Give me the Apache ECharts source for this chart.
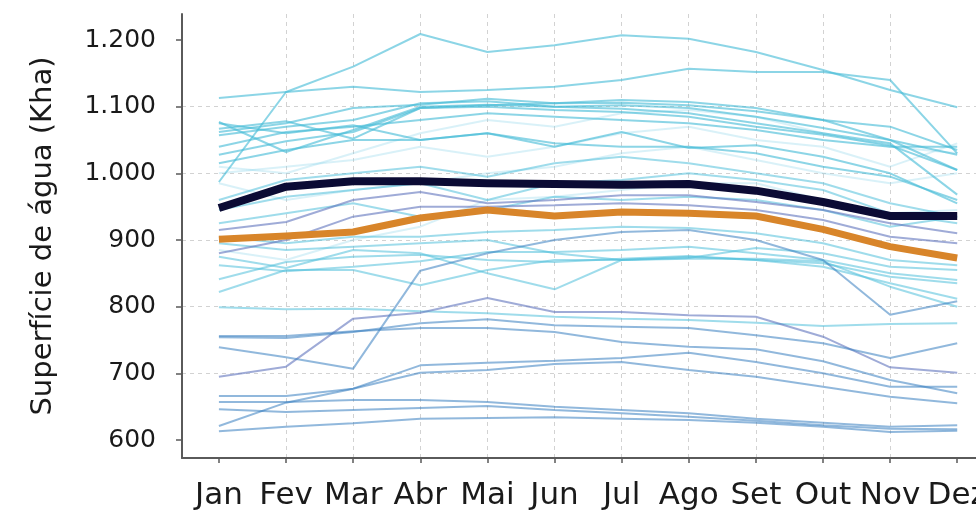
<!DOCTYPE html>
<html>
<head>
<meta charset="utf-8">
<script src="https://cdn.jsdelivr.net/npm/echarts@6/dist/echarts.min.js"></script>
<style>
  html, body { margin: 0; padding: 0; background: #fff; }
  #chart { width: 976px; height: 511px; }
</style>
</head>
<body>
<div id="chart"></div>
<script>
// meses
const months = ['Jan', 'Fev', 'Mar', 'Abr', 'Mai', 'Jun', 'Jul', 'Ago', 'Set', 'Out', 'Nov', 'Dez'];
const yTicks = [600, 700, 800, 900, 1000, 1100, 1200];

// linha escura e linha laranja
const darkLine = [948, 980, 988, 988, 985, 984, 983, 984, 974, 957, 936, 936];
const orangeLine = [901, 906, 912, 933, 945, 936, 942, 940, 936, 916, 890, 873];

// linhas finas (uma por ano)
const upperLines = [
  [1113, 1122, 1130, 1122, 1125, 1130, 1140, 1157, 1152, 1152, 1140, 1030],
  [987, 1122, 1160, 1209, 1182, 1192, 1207, 1202, 1182, 1155, 1125, 1099],
  [1077, 1032, 1065, 1100, 1103, 1100, 1102, 1098, 1085, 1068, 1050, 1028],
  [1067, 1078, 1052, 1098, 1102, 1105, 1106, 1102, 1093, 1080, 1070, 1035],
  [1062, 1075, 1098, 1103, 1112, 1105, 1110, 1107, 1098, 1080, 1050, 1005],
  [1057, 1070, 1080, 1105, 1108, 1100, 1097, 1090, 1075, 1060, 1045, 968],
  [1075, 1060, 1072, 1050, 1060, 1040, 1062, 1038, 1042, 1025, 1000, 955],
  [1040, 1062, 1070, 1080, 1090, 1085, 1080, 1075, 1065, 1050, 1040, 1040],
  [1028, 1048, 1062, 1098, 1100, 1095, 1092, 1085, 1070, 1058, 1042, 1005],
  [1015, 1035, 1050, 1050, 1060, 1045, 1040, 1040, 1030, 1010, 995, 960]
];
const faintLines = [
  [985, 960, 975, 985, 1000, 1010, 1030, 1040, 1020, 1000, 985, 1000],
  [1010, 1000, 1030, 1060, 1080, 1070, 1090, 1095, 1085, 1060, 1040, 1030],
  [1000, 1010, 1020, 1040, 1025, 1040, 1060, 1070, 1050, 1040, 1010, 1045],
  [885, 870, 900, 920, 960, 965, 975, 985, 985, 960, 940, 945]
];
const midLines = [
  [960, 990, 1000, 1010, 995, 1015, 1025, 1015, 1000, 985, 955, 935],
  [945, 965, 975, 985, 960, 985, 990, 1000, 990, 975, 940, 925],
  [925, 940, 955, 935, 945, 965, 960, 965, 960, 945, 920, 935],
  [905, 895, 905, 905, 912, 915, 920, 918, 910, 895, 870, 862],
  [895, 885, 890, 895, 900, 880, 870, 873, 888, 880, 860, 855],
  [875, 858, 885, 880, 850, 826, 870, 875, 870, 865, 845, 835],
  [862, 853, 860, 868, 882, 882, 885, 890, 880, 870, 850, 840],
  [841, 867, 875, 878, 870, 867, 872, 876, 870, 860, 835, 812],
  [822, 855, 855, 832, 855, 870, 870, 872, 872, 868, 830, 800],
  [799, 796, 797, 793, 790, 785, 782, 780, 776, 771, 774, 775]
];
const lavLines = [
  [915, 927, 960, 972, 955, 960, 967, 967, 957, 945, 925, 910],
  [880, 900, 935, 950, 950, 952, 955, 952, 945, 930, 905, 895],
  [695, 710, 782, 791, 813, 792, 792, 787, 785, 755, 709, 701]
];
const blueLines = [
  [739, 724, 707, 854, 880, 900, 912, 915, 900, 870, 788, 808],
  [754, 753, 762, 775, 781, 772, 770, 768, 757, 745, 723, 745],
  [756, 756, 763, 768, 768, 762, 747, 740, 736, 718, 690, 670],
  [621, 656, 677, 712, 716, 719, 723, 731, 717, 700, 680, 680],
  [666, 666, 677, 701, 705, 714, 717, 705, 695, 680, 665, 655],
  [657, 657, 660, 660, 657, 650, 645, 640, 632, 626, 620, 622],
  [646, 642, 645, 648, 651, 645, 640, 635, 629, 622, 617, 616],
  [613, 620, 625, 632, 633, 634, 632, 630, 626, 620, 612, 614]
];

const toPoints = arr => arr.map((v, i) => [i, v]);

function thin(group, color) {
  return group.map(arr => ({
    type: 'line',
    data: toPoints(arr),
    showSymbol: false,
    silent: true,
    lineStyle: { width: 2, color: color },
    z: 2
  }));
}

const series = [].concat(
  thin(faintLines, 'rgba(130,210,232,0.3)'),
  thin(upperLines, 'rgba(70,188,214,0.62)'),
  thin(midLines, 'rgba(80,192,218,0.55)'),
  thin(lavLines, 'rgba(95,115,188,0.6)'),
  thin(blueLines, 'rgba(55,125,192,0.55)'),
  [{
    type: 'line',
    data: toPoints(orangeLine),
    showSymbol: false,
    lineStyle: { width: 7, color: '#d8852a', cap: 'butt', join: 'round' },
    z: 5
  }, {
    type: 'line',
    data: toPoints(darkLine),
    showSymbol: false,
    lineStyle: { width: 8, color: '#0b0b34', cap: 'butt', join: 'round' },
    z: 6
  }]
);

const option = {
  animation: false,
  grid: { left: 182, top: 14, right: 0, bottom: 53, containLabel: false, outerBoundsMode: 'none' },
  xAxis: {
    type: 'value',
    min: -0.55,
    max: 11.28,
    splitNumber: 12,
    minInterval: 1,
    axisLine: { show: true, onZero: false, lineStyle: { color: '#5a5a5a', width: 2 } },
    axisTick: {
      show: true, length: 5, customValues: months.map((m, i) => i),
      lineStyle: { color: '#5a5a5a', width: 1.5 }
    },
    axisLabel: {
      customValues: months.map((m, i) => i),
      formatter: v => (Number.isInteger(v) ? months[v] : ''),
      fontFamily: 'DejaVu Sans',
      fontSize: 31,
      color: '#1a1a1a',
      margin: 22
    },
    splitLine: {
      show: true, showMinLine: false, showMaxLine: false,
      lineStyle: { color: '#d2d2d2', type: [4, 4], width: 1 }
    }
  },
  yAxis: {
    type: 'value',
    min: 573,
    max: 1239,
    splitNumber: 7,
    name: 'Superfície de água (Kha)',
    nameLocation: 'middle',
    nameRotate: 90,
    nameGap: 124,
    nameTextStyle: { fontFamily: 'DejaVu Sans', fontSize: 29, color: '#1a1a1a' },
    axisLine: { show: true, onZero: false, lineStyle: { color: '#5a5a5a', width: 2 } },
    axisTick: {
      show: true, length: 6, customValues: yTicks,
      lineStyle: { color: '#5a5a5a', width: 1.5 }
    },
    axisLabel: {
      customValues: yTicks,
      formatter: v => (yTicks.includes(v) ? v.toLocaleString('pt-BR') : ''),
      fontFamily: 'DejaVu Sans',
      fontSize: 25,
      color: '#1a1a1a',
      margin: 26
    },
    splitLine: {
      show: true, showMinLine: false, showMaxLine: false,
      lineStyle: { color: '#d2d2d2', type: [4, 4], width: 1 }
    }
  },
  series: series
};

const myChart = echarts.init(document.getElementById('chart'), null, { renderer: 'canvas' });
myChart.setOption(option);
</script>
</body>
</html>
